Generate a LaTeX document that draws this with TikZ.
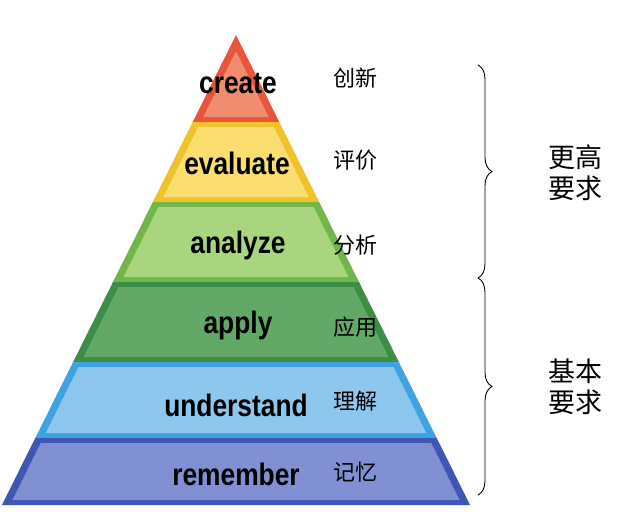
\documentclass[tikz,border=0pt]{standalone}
\usepackage{fontspec}
\setmainfont{Liberation Sans}
\newfontfamily\cjk{Noto Sans CJK SC}
\usetikzlibrary{decorations.pathreplacing}
\definecolor{cA}{HTML}{E8553A}\definecolor{fA}{HTML}{F08C70}
\definecolor{cB}{HTML}{F2C22A}\definecolor{fB}{HTML}{FADE70}
\definecolor{cC}{HTML}{72B548}\definecolor{fC}{HTML}{A9D57E}
\definecolor{cD}{HTML}{3C8E45}\definecolor{fD}{HTML}{62A968}
\definecolor{cE}{HTML}{3FA2E0}\definecolor{fE}{HTML}{8DC7EE}
\definecolor{cF}{HTML}{3E56B4}\definecolor{fF}{HTML}{8090D2}
\tikzset{en/.style={font=\bfseries\fontsize{31}{31}\selectfont,xscale=0.85,inner sep=0pt},
 zh/.style={font=\cjk\fontsize{22}{22}\selectfont,inner sep=0pt},
 br/.style={decorate,decoration={brace,amplitude=14pt},line width=0.9pt}}
\begin{document}
\begin{tikzpicture}[x=1pt,y=-1pt]
\useasboundingbox (0,0) rectangle (635,525);
\fill[white] (0,0) rectangle (635,525);
\foreach \t/\b/\c/\f in {35/122/cA/fA,122/202/cB/fB,202/282/cC/fC,282/362/cD/fD,362/438/cE/fE,438/505/cF/fF}{
  \pgfmathsetmacro\wt{0.498*(\t-35)}
  \pgfmathsetmacro\wb{0.498*(\b-35)}
  \fill[\c] (236-\wt,\t) -- (236+\wt,\t) -- (236+\wb,\b) -- (236-\wb,\b) -- cycle;
  \pgfmathsetmacro\ti{max(\t+5,52)}
  \pgfmathsetmacro\bi{\b-5}
  \pgfmathsetmacro\wti{0.498*(\ti-35)-8}
  \pgfmathsetmacro\wbi{0.498*(\bi-35)-8}
  \fill[\f] (236-\wti,\ti) -- (236+\wti,\ti) -- (236+\wbi,\bi) -- (236-\wbi,\bi) -- cycle;
}
\node[en] (l1) at (238,84) {create};
\node[en] (l2) at (237,163) {evaluate};
\node[en] (l3) at (238,245) {analyze};
\node[en] (l4) at (238,325) {apply};
\node[en] (l5) at (236,405) {understand};
\node[en] (l6) at (236,474) {remember};
\node[zh] (z1) at (355,78) {创新};
\node[zh] (z2) at (355,160) {评价};
\node[zh] (z3) at (355,245) {分析};
\node[zh] (z4) at (355,327) {应用};
\node[zh] (z5) at (355,401) {理解};
\node[zh] (z6) at (355,472) {记忆};
\coordinate (b1) at (478,65); \coordinate (b2) at (478,278);
\coordinate (b3) at (478,278); \coordinate (b4) at (478,495);
\draw[br] (b1) -- (b2);
\draw[br] (b3) -- (b4);
\node[zh,font=\cjk\fontsize{27}{31}\selectfont,align=center] (g1) at (575,173) {更高\\要求};
\node[zh,font=\cjk\fontsize{27}{31}\selectfont,align=center] (g2) at (575,387) {基本\\要求};
\end{tikzpicture}
\end{document}
